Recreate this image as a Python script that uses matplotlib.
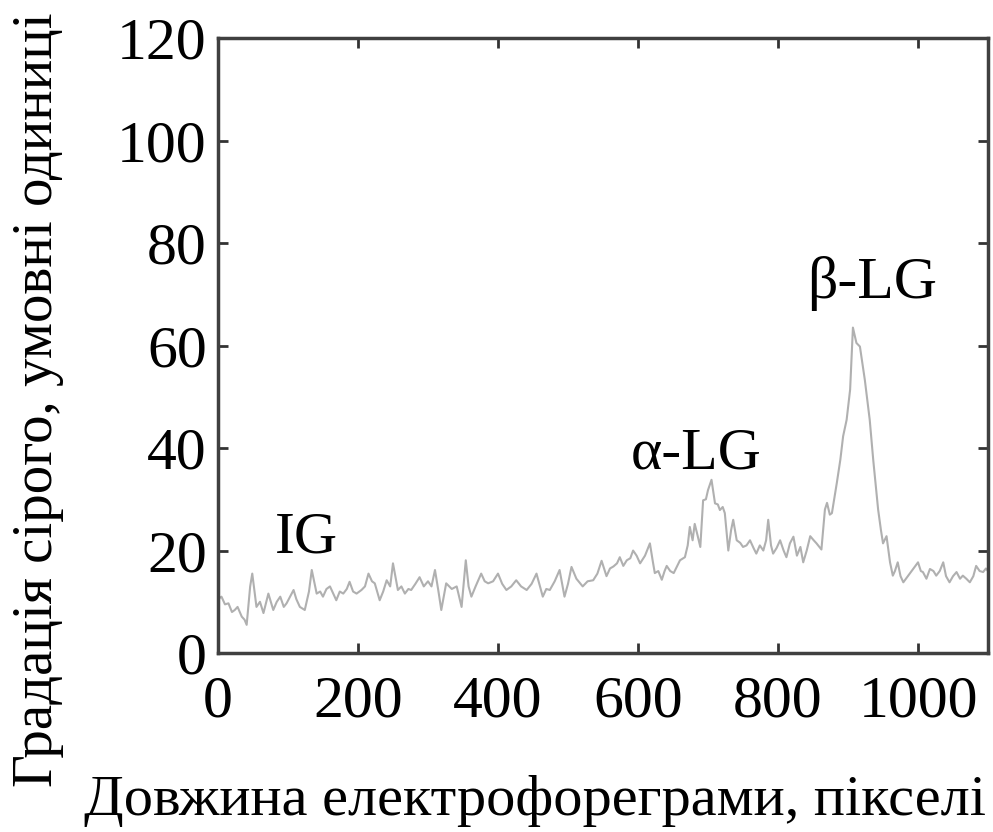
import matplotlib
matplotlib.use("Agg")
import matplotlib.pyplot as plt

# довжина електрофореграми (пікселі) і градація сірого
pos = [0, 5, 10, 15, 20, 24, 28, 34, 38, 41, 46, 49, 55, 60, 65, 72, 79, 84, 89, 94,
       98, 103, 108, 112, 117, 124, 130, 134, 141, 146, 150, 155, 160, 165, 169, 174, 179, 184, 188, 193,
       198, 205, 210, 215, 220, 224, 231, 236, 241, 246, 250, 257, 262, 267, 272, 276, 282, 288, 294, 300,
       305, 310, 315, 319, 326, 334, 341, 348, 354, 358, 362, 368, 376, 381, 386, 393, 400, 406, 412, 419,
       426, 433, 441, 448, 455, 460, 464, 469, 474, 481, 488, 495, 500, 505, 512, 521, 528, 536, 542, 548,
       555, 560, 565, 570, 574, 579, 584, 589, 593, 598, 603, 610, 617, 621, 624, 629, 634, 638, 641, 646,
       651, 656, 660, 667, 671, 674, 678, 681, 685, 689, 693, 697, 700, 705, 710, 714, 717, 721, 724, 729,
       733, 736, 741, 746, 750, 755, 760, 765, 769, 774, 779, 783, 786, 790, 793, 798, 803, 808, 812, 817,
       822, 827, 832, 836, 841, 846, 851, 855, 862, 867, 870, 874, 877, 884, 889, 893, 898, 903, 907, 912,
       917, 924, 931, 936, 943, 947, 950, 955, 960, 964, 967, 971, 975, 979, 986, 993, 1000, 1004, 1007, 1012,
       1017, 1022, 1026, 1031, 1036, 1040, 1045, 1050, 1055, 1060, 1064, 1069, 1074, 1079, 1083, 1088, 1093, 1097, 1100]
grey = [10.5, 11, 9.5, 9.7, 8, 8.4, 9, 7.1, 6.5, 5.5, 13, 15.5, 9, 10, 7.8, 11.6, 8.4, 10, 11, 9,
        9.7, 11, 12.3, 10.5, 9, 8.4, 12, 16.2, 11.6, 12, 11, 12.5, 13, 11.5, 10.3, 12, 11.6, 12.5, 13.9, 12,
        11.6, 12.3, 13, 15.5, 14, 13.6, 10.3, 12, 14.2, 13, 17.5, 12.3, 13, 11.6, 12.5, 12.3, 13.5, 14.8, 13, 14,
        13, 16.2, 12, 8.4, 13.6, 12.5, 13, 9, 18.1, 13, 11, 13, 15.5, 14, 13.6, 14, 15.5, 13.5, 12.3, 13,
        14.2, 13, 12.3, 13.5, 15.5, 13, 11, 12.5, 12.3, 14, 16.2, 11, 13.5, 16.8, 14.5, 13, 14, 14.2, 15.5, 18,
        15, 16.5, 16.9, 17.5, 18.7, 17, 18.1, 18.5, 20, 19, 17.5, 19, 21.4, 18, 15.6, 16, 14.3, 16, 17, 16,
        15.6, 17, 18.1, 18.7, 21, 24.6, 22, 25.2, 23, 20.7, 29.8, 30, 31.8, 33.8, 29.2, 29, 27.9, 28.5, 27.3, 20,
        24, 26, 22, 21.5, 20.7, 21, 22, 20.5, 19.4, 21, 20, 22, 26, 21, 19.4, 20.5, 22, 20, 18.7, 21.4,
        22.7, 19, 20.7, 17.7, 20, 22.8, 22, 21.4, 20.2, 28, 29.3, 27, 27.3, 33.2, 37.7, 42.3, 45.5, 51.4, 63.5, 60.5,
        59.8, 53.3, 45.5, 37.7, 28, 24, 21.4, 22.8, 17.7, 15.1, 16, 17.7, 15, 13.8, 15.1, 16.4, 17.7, 16, 15.8, 14.5,
        16.4, 16, 15.1, 16, 17.7, 15, 13.8, 15, 15.8, 14.5, 15.1, 14.5, 13.8, 15, 17, 16, 15.8, 16.5, 16]

xticks = [0, 200, 400, 600, 800, 1000]
yticks = [0, 20, 40, 60, 80, 100, 120]

plt.rcParams['font.family'] = ['Liberation Serif', 'DejaVu Serif']

fig = plt.figure(figsize=(9.93, 8.32), dpi=100)
ax = fig.add_axes([0.2195, 0.2151, 0.7755, 0.7392])

ax.plot(pos, grey, color="#b0b0b0", linewidth=1.5)

ax.set_xlim(0, 1100)
ax.set_ylim(0, 120)
ax.set_xticks(xticks)
ax.set_yticks(yticks)
ax.tick_params(direction="in", length=7, width=2, color="#333333",
               top=True, right=True, labelsize=43)
ax.tick_params(axis="x", pad=16)
ax.tick_params(axis="y", pad=8)
for s in ax.spines.values():
    s.set_linewidth(2.5)
    s.set_color("#404040")

ax.text(81, 19.7, "IG", fontsize=43)
ax.text(589, 36.1, "α-LG", fontsize=43)
ax.text(841, 69.3, "β-LG", fontsize=43)

# підписи осей вручну, як на оригіналі
fig.text(535 / 993, (832 - 815) / 832, "Довжина електрофореграми, пікселі",
         fontsize=42, ha="center", va="baseline")
fig.text(38 / 993, (832 - 400) / 832, "Градація сірого, умовні одиниці",
         fontsize=41, rotation=90, ha="center", va="center")

fig.savefig("out.png", dpi=100)
